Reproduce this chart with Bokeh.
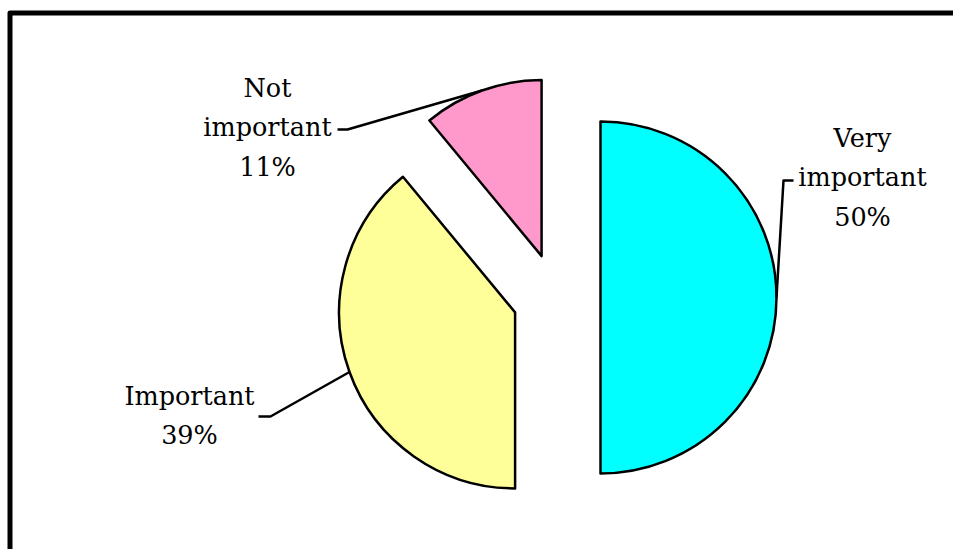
import numpy as np
from bokeh.plotting import figure
from bokeh.models import Range1d
from bokeh.core.properties import value
from bokeh.embed import file_html
from bokeh.resources import INLINE

# ---- data ----
categories = ["Very important", "Important", "Not important"]
values = [50, 39, 11]
colors = ["#00FFFF", "#FFFF99", "#FF99CC"]

# ---- layout (pixel coordinates, origin at top-left of the chart) ----
W, H = 953, 549
def Y(py):
    return H - py

cx, cy = 556, Y(297)     # pie centre
radius = 176
explode = 44

p = figure(width=W, height=H, x_range=Range1d(0, W), y_range=Range1d(0, H),
           output_backend="svg", toolbar_location=None, min_border=0,
           x_axis_location=None, y_axis_location=None, outline_line_color=None,
           background_fill_color="white", border_fill_color="white")
p.xgrid.visible = False
p.ygrid.visible = False

total = float(sum(values))
frac = np.array(values) / total
cum = np.concatenate([[0], np.cumsum(frac)])
# clockwise from 12 o'clock
end_ang = np.pi / 2 - 2 * np.pi * cum[:-1]
start_ang = np.pi / 2 - 2 * np.pi * cum[1:]
mid = (start_ang + end_ang) / 2
xs = cx + explode * np.cos(mid)
ys = cy + explode * np.sin(mid)

p.wedge(x=xs, y=ys, radius=radius, start_angle=start_ang, end_angle=end_ang,
        fill_color=colors, line_color="black", line_width=2.5, line_join="round")

# arc midpoints for leader lines
ax = xs + radius * np.cos(mid)
ay = ys + radius * np.sin(mid)

# label positions / elbows (pixels)
label_x = [862, 189, 267]
label_y = [177, 415, 127]
elbow_in = [(783, 180), (270, 416), (347, 129)]
elbow_out = [(793, 180), (258, 416), (337, 129)]

lx, ly = [], []
for i in range(3):
    lx.append([elbow_out[i][0], elbow_in[i][0], ax[i]])
    ly.append([Y(elbow_out[i][1]), Y(elbow_in[i][1]), ay[i]])
p.multi_line(xs=lx, ys=ly, line_color="black", line_width=2.5, line_join="round")

texts = []
for c, f in zip(categories, frac):
    name = c.replace(" ", "\n", 1) if c != "Important" else c
    texts.append(f"{name}\n{round(f * 100):.0f}%")
p.text(x=label_x, y=[Y(v) for v in label_y], text=texts,
       text_font=value("DejaVu Serif"), text_font_size="25.5px",
       text_align="center", text_baseline="middle", text_line_height=1.31,
       text_color="black")

# frame border (left + top)
p.line(x=[9.5, 9.5, W], y=[Y(H), Y(12.5), Y(12.5)], line_color="black",
       line_width=5, line_join="round")

open("out.html", "w").write(file_html(p, INLINE))
